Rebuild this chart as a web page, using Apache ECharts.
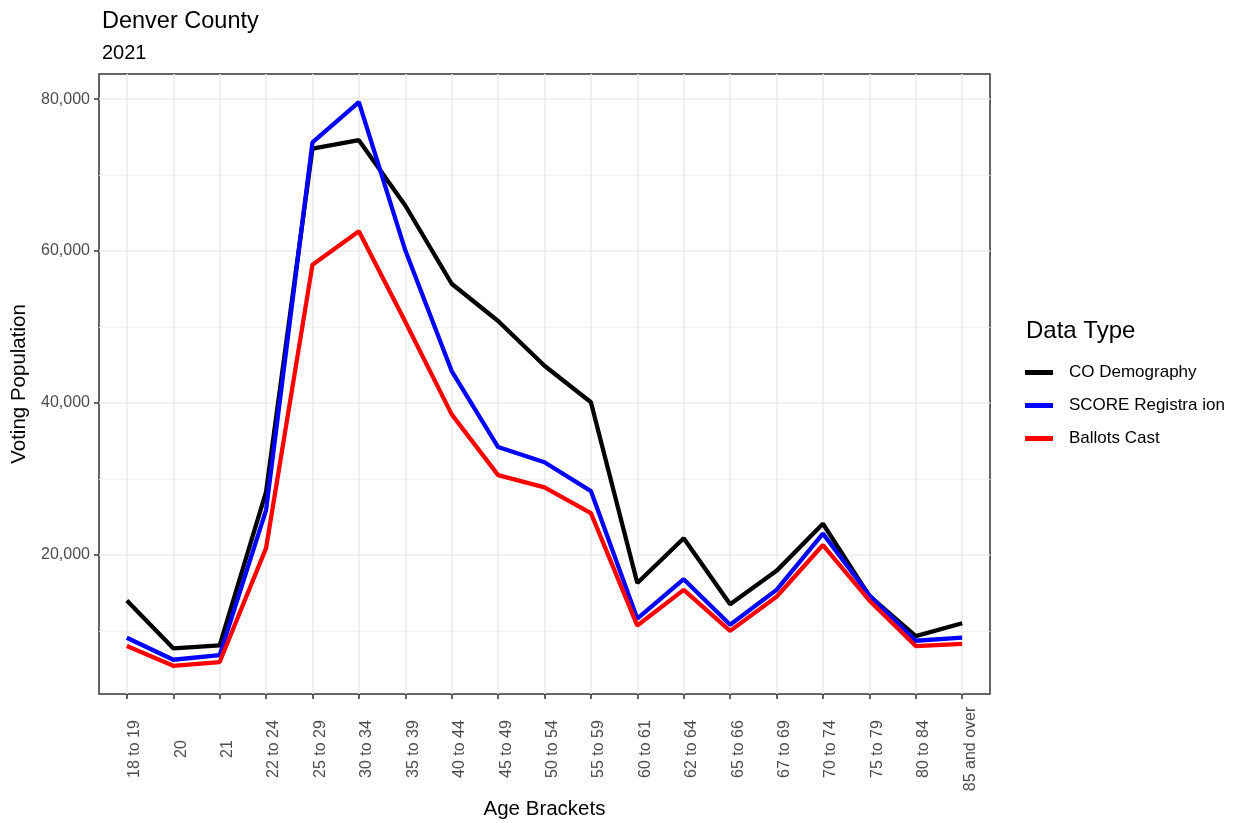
<!DOCTYPE html>
<html>
<head>
<meta charset="utf-8">
<script src="https://cdn.jsdelivr.net/npm/echarts@6/dist/echarts.min.js"></script>
<style>
  html, body { margin: 0; padding: 0; background: #fff; }
  #chart { width: 1241px; height: 823px; }
</style>
</head>
<body>
<div id="chart"></div>
<script>
const ageBrackets = ['18 to 19', '20', '21', '22 to 24', '25 to 29', '30 to 34', '35 to 39', '40 to 44',
  '45 to 49', '50 to 54', '55 to 59', '60 to 61', '62 to 64', '65 to 66', '67 to 69', '70 to 74',
  '75 to 79', '80 to 84', '85 and over']

const coDemography = [14000, 7700, 8100, 28300, 73500, 74600, 66000, 55700, 50800, 44900, 40100,
  16300, 22200, 13500, 17900, 24100, 14600, 9300, 11000]
const scoreRegistration = [9100, 6200, 6800, 25900, 74300, 79600, 60100, 44200, 34200, 32200, 28400,
  11600, 16800, 10800, 15400, 22800, 14700, 8700, 9100]
const ballotsCast = [8000, 5400, 5900, 20900, 58200, 62600, 50700, 38500, 30500, 28900, 25500,
  10700, 15400, 10000, 14500, 21300, 14000, 8000, 8300]

const yMajor = [20000, 40000, 60000, 80000]
const yMinor = [10000, 30000, 50000, 70000]

const chart = echarts.init(document.getElementById('chart'))
const font = 'Liberation Sans, Arial, sans-serif'
const idx = ageBrackets.map((_, i) => i)
const pairs = arr => arr.map((v, i) => [i, v])

// panel limits (ggplot style expansion)
const yMin = 1690
const yMax = 83310

const option = {
  backgroundColor: '#fff',
  textStyle: { fontFamily: font },
  animation: false,
  title: [
    { text: 'Denver County', left: 97, top: 5, textStyle: { fontSize: 23.5, fontWeight: 'normal', color: '#000', fontFamily: font } },
    { text: '2021', left: 97, top: 38, textStyle: { fontSize: 20, fontWeight: 'normal', color: '#000', fontFamily: font } },
    { text: 'Data Type', left: 1021, top: 314, textStyle: { fontSize: 24, fontWeight: 'normal', color: '#000', fontFamily: font } }
  ],
  legend: {
    orient: 'vertical',
    left: 1020,
    top: 359,
    icon: 'rect',
    itemWidth: 28,
    itemHeight: 5,
    itemGap: 16,
    textStyle: { fontSize: 17, color: '#000', fontFamily: font, padding: [0, 0, 0, 11], lineHeight: 17 },
    data: ['CO Demography', 'SCORE Registra ion', 'Ballots Cast']
  },
  grid: {
    left: 99, right: 251, top: 74, bottom: 129,
    containLabel: false,
    outerBoundsMode: 'none',
    show: true, borderColor: '#333', borderWidth: 1.5, backgroundColor: 'transparent'
  },
  xAxis: {
    type: 'value',
    min: -0.6,
    max: 18.6,
    name: 'Age Brackets',
    nameLocation: 'middle',
    nameGap: 103,
    nameTextStyle: { fontSize: 20.5, color: '#000', fontFamily: font },
    axisLine: { show: false, onZero: false },
    axisTick: { show: true, length: 5, customValues: idx, lineStyle: { color: '#333', width: 1.5 } },
    axisLabel: {
      customValues: idx,
      rotate: 90,
      align: 'center',
      verticalAlign: 'top',
      margin: 55,
      fontSize: 16,
      color: '#4d4d4d',
      fontFamily: font,
      formatter: v => ageBrackets[Math.round(v)]
    },
    splitLine: { show: true, lineStyle: { color: '#ebebeb', width: 1.6 } }
  },
  yAxis: [
    {
      type: 'value',
      min: yMin,
      max: yMax,
      name: 'Voting Population',
      nameLocation: 'middle',
      nameGap: 66,
      nameTextStyle: { fontSize: 20.5, color: '#000', fontFamily: font },
      axisLine: { show: false, onZero: false },
      axisTick: { show: true, length: 5, customValues: yMajor, lineStyle: { color: '#333', width: 1.5 } },
      axisLabel: {
        customValues: yMajor,
        margin: 9,
        fontSize: 16,
        color: '#4d4d4d',
        fontFamily: font,
        formatter: v => v.toLocaleString('en-US')
      },
      splitLine: { show: true, lineStyle: { color: '#ebebeb', width: 1.6 } }
    },
    {
      type: 'value',
      min: yMin,
      max: yMax,
      position: 'left',
      axisLine: { show: false, onZero: false },
      axisTick: { show: false, customValues: yMinor },
      axisLabel: { show: false, customValues: yMinor },
      splitLine: { show: true, lineStyle: { color: '#f0f0f0', width: 0.9 } }
    }
  ],
  series: [
    { name: 'CO Demography', type: 'line', data: pairs(coDemography), showSymbol: false, symbol: 'none',
      lineStyle: { color: '#000', width: 4.3 }, itemStyle: { color: '#000' } },
    { name: 'SCORE Registra ion', type: 'line', data: pairs(scoreRegistration), showSymbol: false, symbol: 'none',
      lineStyle: { color: '#0000ff', width: 4.3 }, itemStyle: { color: '#0000ff' } },
    { name: 'Ballots Cast', type: 'line', data: pairs(ballotsCast), showSymbol: false, symbol: 'none',
      lineStyle: { color: '#ff0000', width: 4.3 }, itemStyle: { color: '#ff0000' } }
  ]
}

chart.setOption(option)
</script>
</body>
</html>
